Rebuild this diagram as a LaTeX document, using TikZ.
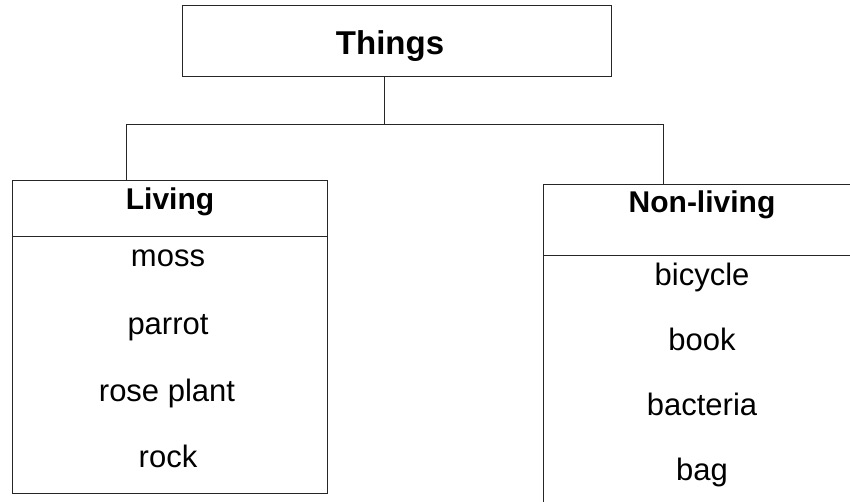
\documentclass[tikz,border=0pt]{standalone}
\usepackage{fontspec}
\setmainfont{Liberation Sans}
\usetikzlibrary{positioning}

\tikzset{
	box/.style={draw=black!85, line width=1pt, rectangle, inner sep=0pt},
	headtext/.style={anchor=base, inner sep=0pt, font=\fontsize{30}{36}\selectfont\bfseries},
	item/.style={anchor=base, inner sep=0pt, font=\fontsize{31}{37}\selectfont},
	link/.style={draw=black!85, line width=1pt},
}

\begin{document}
\begin{tikzpicture}[x=1pt, y=-1pt]
		%%%%% FRAME %%%%%
		\useasboundingbox (0, 0) rectangle (850, 502);
		\clip (0, 0) rectangle (850, 502);
		
		%%%%% TOP %%%%%
		\node[box, minimum width=429pt, minimum height=71pt] (things) at (396.5, 41.5) {};
		\node[headtext, font=\fontsize{33}{40}\selectfont\bfseries] (thingstext) at (390, 55) {Things};
		
		%%%%% LIVING %%%%%
		\node[box, minimum width=315pt, minimum height=56pt] (livhead) at (169.5, 209) {};
		\node[box, minimum width=315pt, minimum height=256pt] (livbody) at (169.5, 365) {};
		\node[headtext] (living) at (170, 210) {Living};
		\node[item] (moss) at (168, 267) {moss};
		\node[item] (parrot) at (168, 334) {parrot};
		\node[item] (rose) at (167, 401) {rose plant};
		\node[item] (rock) at (168, 467) {rock};
		
		%%%%% NON-LIVING %%%%%
		\node[box, minimum width=318pt, minimum height=71pt] (nonhead) at (702, 220.5) {};
		\node[box, minimum width=318pt, minimum height=274pt] (nonbody) at (702, 393) {};
		\node[headtext] (nonliving) at (702, 213) {Non-living};
		\node[item] (bicycle) at (702, 285) {bicycle};
		\node[item] (book) at (702, 350) {book};
		\node[item] (bacteria) at (702, 415) {bacteria};
		\node[item] (bag) at (702, 480) {bag};
		
		%%%%% LINKS %%%%%
		\coordinate (split) at (384, 125);
		\coordinate (lbend) at (126, 125);
		\coordinate (rbend) at (663, 125);
		\draw[link] (split |- things.south) -- (split);
		\draw[link] (lbend |- livhead.north) -- (lbend) -- (rbend) -- (rbend |- nonhead.north);
\end{tikzpicture}
\end{document}
